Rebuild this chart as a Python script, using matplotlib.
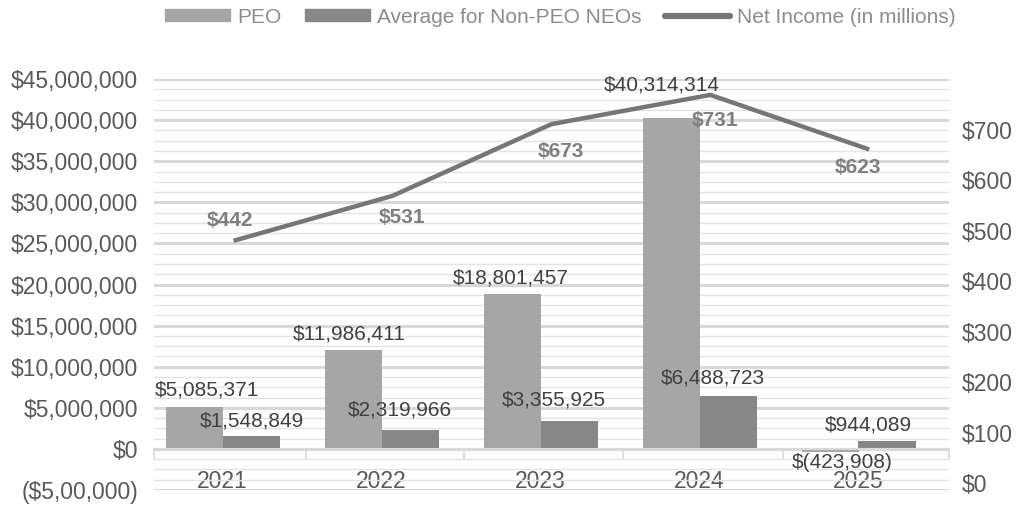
import matplotlib.pyplot as plt
import matplotlib.transforms as mtransforms
from matplotlib.ticker import MultipleLocator, FixedLocator
from matplotlib.patches import Patch
from matplotlib.lines import Line2D

plt.rcParams["font.family"] = ["Liberation Sans", "DejaVu Sans"]

# data
years = ["2021", "2022", "2023", "2024", "2025"]
peo = [5085371, 11986411, 18801457, 40314314, -423908]
neo_avg = [1548849, 2319966, 3355925, 6488723, 944089]
net_income = [442, 531, 673, 731, 623]
left_tick_labels = ["($5,00,000)"] + [f"${v:,}" for v in range(0, 45000001, 5000000)]
right_ticks = [0, 100, 200, 300, 400, 500, 600, 700]

PEO_COLOR = "#a6a6a6"
NEO_COLOR = "#878787"
LINE_COLOR = "#767676"
TICK_COLOR = "#595959"
GRID_COLOR = "#d9d9d9"
PX = 72 / 100  # points per pixel

# label nudges (pixels) to mimic the hand-placed labels of the original
peo_offsets = [(12, 17), (-4, 16), (-2, 16), (-10, 33), (12, -10)]
neo_offsets = [(0, 15), (-11, 20), (-15, 21), (-15, 18), (-19, 16)]
line_offsets = [(-4, 20), (10, -22), (10, -27), (5, -26), (-11, -18)]

fig = plt.figure(figsize=(10.2, 5.08), dpi=100)
ax = fig.add_axes([0.151, 0.0354, 0.779, 0.809])

x = list(range(len(years)))
bar_w = 0.36
peo_x = [i - 0.245 for i in x]
neo_x = [i + 0.113 for i in x]
ax.bar(peo_x, peo, width=bar_w, color=PEO_COLOR, zorder=2)
ax.bar(neo_x, neo_avg, width=bar_w, color=NEO_COLOR, zorder=2)

fmt = lambda v: f"$({abs(v):,})" if v < 0 else f"${v:,}"
for xs, vals, offs in [(peo_x, peo, peo_offsets), (neo_x, neo_avg, neo_offsets)]:
    for xi, v, (dx, dy) in zip(xs, vals, offs):
        ax.annotate(fmt(v), (xi, v), xytext=(dx * PX, dy * PX),
                    textcoords="offset points", ha="center", va="center",
                    fontsize=15, color="#404040", zorder=4)

ax.set_xlim(-0.5, 4.5)
ax.set_ylim(-5000000, 45000000)
ax.set_yticks(range(-5000000, 45000001, 5000000))
ax.set_yticklabels(left_tick_labels)
ax.yaxis.set_minor_locator(MultipleLocator(1250000))
ax.tick_params(axis="y", which="both", length=0, pad=11.5, labelsize=16.5,
               labelcolor=TICK_COLOR)
ax.grid(axis="y", which="major", color=GRID_COLOR, lw=2.2)
ax.grid(axis="y", which="minor", color="#e4e4e4", lw=1.0)
ax.set_axisbelow(True)

# category labels and separators hanging from the zero line
ax.spines["bottom"].set_position(("data", 0))
ax.spines["bottom"].set_color(GRID_COLOR)
ax.spines["bottom"].set_linewidth(1.5)
ax.set_xticks([i - 0.07 for i in x])
ax.set_xticklabels(years)
ax.xaxis.set_minor_locator(FixedLocator([-0.5, 0.454, 1.45, 2.45, 3.455, 4.5]))
ax.tick_params(axis="x", which="major", length=0, pad=15, labelsize=16.5,
               labelcolor=TICK_COLOR)
ax.tick_params(axis="x", which="minor", length=7, width=1.2, color=GRID_COLOR)
for s in ["top", "left", "right"]:
    ax.spines[s].set_visible(False)

# net income on secondary axis
ax2 = ax.twinx()
ax2.plot(x, net_income, color=LINE_COLOR, lw=3.2, solid_capstyle="butt", zorder=3)
ax2.set_ylim(-51.5, 762.4)
ax2.set_yticks(right_ticks)
ax2.set_yticklabels([f"${v}" for v in right_ticks])
ax2.tick_params(axis="y", length=0, pad=9.5, labelsize=16.5, labelcolor=TICK_COLOR)
shift = mtransforms.ScaledTranslation(0, -19 / 100, fig.dpi_scale_trans)
for lbl in ax2.get_yticklabels():
    lbl.set_transform(lbl.get_transform() + shift)
for s in ax2.spines.values():
    s.set_visible(False)

for xi, v, (dx, dy) in zip(x, net_income, line_offsets):
    ax2.annotate(f"${v}", (xi, v), xytext=(dx * PX, dy * PX),
                 textcoords="offset points", ha="center", va="center",
                 fontsize=15, fontweight="bold", color="#7f7f7f")

handles = [
    Patch(color=PEO_COLOR),
    Patch(color=NEO_COLOR),
    Line2D([0], [0], color=LINE_COLOR, lw=4.5, solid_capstyle="round"),
]
fig.legend(handles, ["PEO", "Average for Non-PEO NEOs", "Net Income (in millions)"],
           loc="center", bbox_to_anchor=(0.5495, 0.9665), ncol=3, frameon=False,
           fontsize=15, labelcolor="#8c8c8c", handlelength=3.1, handleheight=0.53,
           handletextpad=0.35, columnspacing=1.15)

fig.savefig("out.png", dpi=100)
